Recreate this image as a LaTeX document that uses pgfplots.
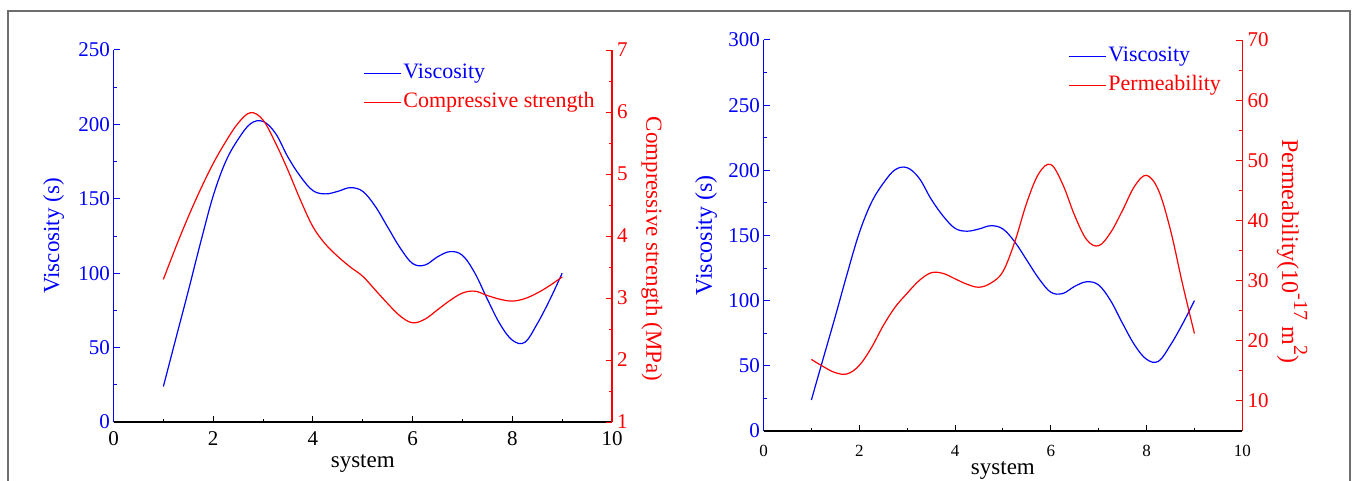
\documentclass[border=0pt]{standalone}
\usepackage{fontspec}
\setmainfont{Liberation Serif}
\usepackage{pgfplots}
\pgfplotsset{compat=1.18}
\newcommand\sups[1]{\raisebox{0.5em}{\fontsize{20}{20}\selectfont #1}}
\begin{document}
\begin{tikzpicture}
\useasboundingbox (0pt,0pt) rectangle (1355pt,480pt);
\fill[white] (0pt,0pt) rectangle (1355pt,480pt);
\draw[color={rgb,255:red,110;green,110;blue,110}, line width=1.2pt] (8pt,-2pt) -- (8pt,469pt) -- (1350pt,469pt) -- (1350pt,-2pt);
\pgfplotsset{
  common/.style={scale only axis, xmin=0, xmax=10, tick align=inside,
    major tick length=6pt, minor tick length=3pt,
    /pgf/number format/assume math mode=true,
    every tick/.append style={line width=1pt},
    axis line style={line width=1.3pt},
    tick label style={font=\fontsize{21}{21}\selectfont},
    legend cell align=left,
    legend image code/.code={\draw[#1] (0pt,0pt) -- (37pt,0pt);},
  },
  leftax/.style={axis x line*=bottom, axis y line*=left,
    xtick={0,2,...,10}, minor xtick={1,3,...,9},
    x axis line style={black}, y axis line style={blue},
    y tick style={blue}, minor y tick style={blue}, x tick style={black},
    yticklabel style={blue}, xticklabel style={black, yshift=-8pt, inner sep=1pt},
    ylabel style={blue}},
  rightax/.style={axis x line=none, axis y line*=right,
    y axis line style={red}, y tick style={red}, minor y tick style={red},
    yticklabel style={red, inner sep=1pt, xshift=4pt}, ylabel style={red}},
  curve/.style={smooth, tension=0.6, line width=1.2pt},
}
% ---------------- left chart ----------------
\begin{axis}[common, leftax, at={(113.5pt,58pt)}, anchor=south west, width=498.5pt, height=372pt,
  ymin=0, ymax=250, ytick={0,50,...,250}, minor ytick={25,75,...,225},
  xlabel={system}, ylabel={Viscosity (s)},
  xlabel style={font=\fontsize{23}{23}\selectfont, at={(axis description cs:0.5,-0.112)}, anchor=center},
  ylabel style={font=\fontsize{23}{23}\selectfont, at={(axis description cs:-0.12,0.5)}, anchor=center}]
\addplot[blue, curve] coordinates {
(1,23.8) (1.25,56) (1.5,88) (1.75,121) (2,152) (2.25,175) (2.5,190) (2.75,200.5) (3,202)
(3.25,194) (3.5,178) (3.75,165) (4,155.5) (4.25,153.3) (4.5,155) (4.75,157.5) (5,155)
(5.25,145) (5.5,131) (5.75,117) (6,106.5) (6.25,105.5) (6.5,111) (6.75,114.5) (7,112)
(7.25,100) (7.5,82.5) (7.75,66) (8,55) (8.25,53.5) (8.5,66) (8.75,82) (9,100)};
\end{axis}
\begin{axis}[common, rightax, at={(113.5pt,58pt)}, anchor=south west, width=498.5pt, height=372pt,
  ymin=1, ymax=7, ytick={1,...,7}, minor ytick={1.5,2.5,...,6.5},
  ylabel={Compressive strength (MPa)},
  ylabel style={font=\fontsize{23}{23}\selectfont, rotate=180, at={(axis description cs:1.08,0.465)}, anchor=center},
  legend style={at={(0.5005,0.97)}, anchor=north west, draw=none, fill=none,
    font=\fontsize{22}{22}\selectfont, inner sep=0pt, row sep=5pt,
    nodes={text height=15pt, text depth=5pt, inner sep=2pt}}]
\addlegendimage{blue, line width=1.2pt}
\addlegendentry{\textcolor{blue}{Viscosity}}
\addplot[red, curve] coordinates {
(1,3.30) (1.25,3.82) (1.5,4.31) (1.75,4.76) (2,5.17) (2.25,5.52) (2.5,5.82) (2.75,5.99) (3,5.87)
(3.25,5.50) (3.5,5.06) (3.75,4.58) (4,4.15) (4.25,3.87) (4.5,3.67) (4.75,3.50) (5,3.35)
(5.25,3.13) (5.5,2.91) (5.75,2.71) (6,2.60) (6.25,2.66) (6.5,2.81) (6.75,2.96) (7,3.08)
(7.25,3.11) (7.5,3.04) (7.75,2.98) (8,2.95) (8.25,2.99) (8.5,3.08) (8.75,3.20) (9,3.34)};
\addlegendentry{\textcolor{red}{Compressive strength}}
\end{axis}
% ---------------- right chart ----------------
\begin{axis}[common, leftax, at={(763.5pt,49pt)}, anchor=south west, width=478.8pt, height=391pt,
  ymin=0, ymax=300, ytick={0,50,...,300}, minor ytick={25,75,...,275},
  xticklabel style={font=\fontsize{17}{17}\selectfont, yshift=-5pt},
  xlabel={system}, ylabel={Viscosity (s)},
  xlabel style={font=\fontsize{23}{23}\selectfont, at={(axis description cs:0.5,-0.1)}, anchor=center},
  ylabel style={font=\fontsize{24}{24}\selectfont, at={(axis description cs:-0.12,0.5)}, anchor=center}]
\addplot[blue, curve] coordinates {
(1,23.8) (1.25,56) (1.5,88) (1.75,121) (2,152) (2.25,175) (2.5,190) (2.75,200.5) (3,202)
(3.25,194) (3.5,178) (3.75,165) (4,155.5) (4.25,153.3) (4.5,155) (4.75,157.5) (5,155)
(5.25,145) (5.5,131) (5.75,117) (6,106.5) (6.25,105.5) (6.5,111) (6.75,114.5) (7,112)
(7.25,100) (7.5,82.5) (7.75,66) (8,55) (8.25,53.5) (8.5,66) (8.75,82) (9,100)};
\end{axis}
\begin{axis}[common, rightax, at={(763.5pt,49pt)}, anchor=south west, width=478.8pt, height=391pt,
  ymin=5, ymax=70, ytick={10,20,...,70}, minor ytick={15,25,...,65},
  ylabel={Permeability(10\sups{-17} m\sups{2})},
  ylabel style={font=\fontsize{24}{24}\selectfont, rotate=180, at={(axis description cs:1.104,0.46)}, anchor=center},
  legend style={at={(0.636,0.988)}, anchor=north west, draw=none, fill=none,
    font=\fontsize{22}{22}\selectfont, inner sep=0pt, row sep=5pt,
    nodes={text height=15pt, text depth=5pt, inner sep=2pt}}]
\addlegendimage{blue, line width=1.2pt}
\addlegendentry{\textcolor{blue}{Viscosity}}
\addplot[red, curve] coordinates {
(1,16.9) (1.25,15.7) (1.5,14.7) (1.75,14.5) (2,15.9) (2.25,18.8) (2.5,22.5) (2.75,25.6) (3,27.9)
(3.25,30.0) (3.5,31.3) (3.75,31.2) (4,30.3) (4.25,29.4) (4.5,28.9) (4.75,29.6) (5,31.5)
(5.25,36.5) (5.5,43) (5.75,47.8) (6,49.3) (6.25,46.0) (6.5,40.8) (6.75,36.8) (7,35.8)
(7.25,38.0) (7.5,41.7) (7.75,45.7) (8,47.5) (8.25,45.0) (8.5,38.4) (8.75,29.5) (9,21.2)};
\addlegendentry{\textcolor{red}{Permeability}}
\end{axis}
\end{tikzpicture}
\end{document}
